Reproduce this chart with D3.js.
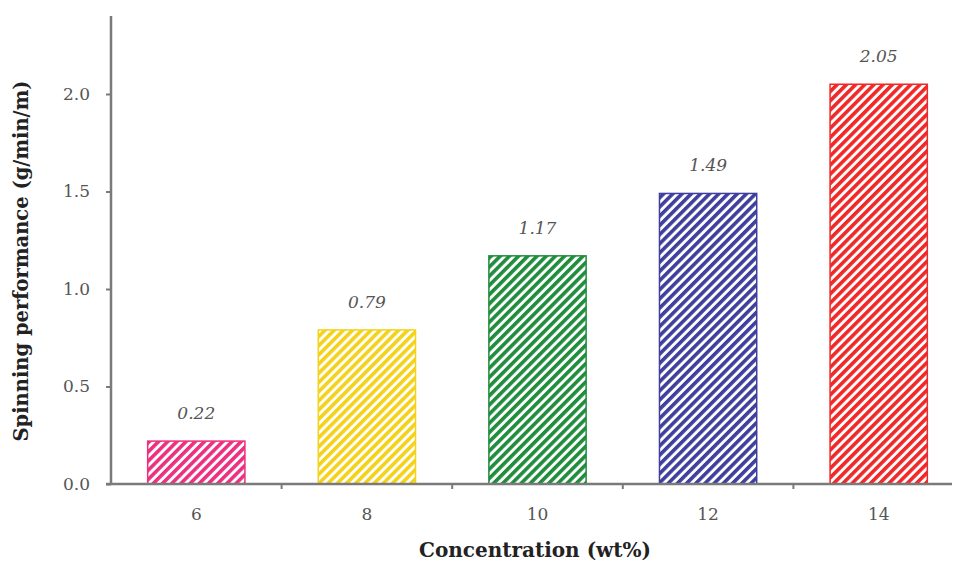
<!DOCTYPE html>
<html><head><meta charset="utf-8">
<script src="https://cdn.jsdelivr.net/npm/d3@7"></script>
<style>body{margin:0;background:#fff;} svg{display:block;}</style>
</head><body>
<svg id="c" width="954" height="563"></svg>
<script>
const categories = ["6", "8", "10", "12", "14"];
const values = [0.22, 0.79, 1.17, 1.49, 2.05];
const valueLabels = ["0.22", "0.79", "1.17", "1.49", "2.05"];
const colors = ["#ec2f7e", "#f4d21a", "#1f8d3c", "#3f3f9e", "#f02828"];
const yTicks = [0.0, 0.5, 1.0, 1.5, 2.0];

const svg = d3.select("#c");
const font = "'DejaVu Serif', 'Liberation Serif', serif";
const axisColor = "#7a7a7a";
const x0 = 111, y0 = 484;
const y = d3.scaleLinear().domain([0, 2.4]).range([y0, 16]);
const x = d3.scaleBand().domain(categories).range([x0, 964]).paddingInner(0.43).paddingOuter(0.215);

const defs = svg.append("defs");
colors.forEach((c, i) => {
  const p = defs.append("pattern").attr("id", "h" + i).attr("patternUnits", "userSpaceOnUse")
    .attr("width", 6.5).attr("height", 6.5).attr("patternTransform", "rotate(45)");
  p.append("rect").attr("width", 6.5).attr("height", 6.5).attr("fill", "#fff");
  p.append("rect").attr("width", 3.6).attr("height", 6.5).attr("fill", c);
});

// bars
svg.selectAll("rect.bar").data(values).join("rect").attr("class", "bar")
  .attr("x", (d, i) => x(categories[i]))
  .attr("y", d => y(d))
  .attr("width", x.bandwidth())
  .attr("height", d => y0 - y(d))
  .attr("fill", (d, i) => `url(#h${i})`)
  .attr("stroke", (d, i) => colors[i]).attr("stroke-width", 1.5);

// value labels
svg.selectAll("text.val").data(values).join("text").attr("class", "val")
  .attr("x", (d, i) => x(categories[i]) + x.bandwidth() / 2)
  .attr("y", d => y(d) - 22)
  .attr("text-anchor", "middle").attr("font-family", font).attr("font-style", "italic")
  .attr("font-size", 17).attr("fill", "#555")
  .text((d, i) => valueLabels[i]);

// y axis
const yAxis = d3.axisLeft(y).tickValues(yTicks).tickFormat(d3.format(".1f")).tickSize(5).tickPadding(16);
const gy = svg.append("g").attr("transform", `translate(${x0},0)`).call(yAxis);
gy.select(".domain").remove();
gy.selectAll(".tick line").attr("stroke", axisColor).attr("stroke-width", 2);
gy.selectAll(".tick text").attr("font-family", font).attr("font-size", 17).attr("fill", "#555");
svg.append("line").attr("x1", x0).attr("x2", x0).attr("y1", 16).attr("y2", y0 + 1)
  .attr("stroke", axisColor).attr("stroke-width", 2.5);

// x axis
const gx = svg.append("g").attr("transform", `translate(0,${y0})`)
  .call(d3.axisBottom(x).tickSize(0).tickPadding(24));
gx.select(".domain").remove();
gx.selectAll(".tick text").attr("font-family", font).attr("font-size", 17).attr("fill", "#555");
svg.append("line").attr("x1", x0 - 5).attr("x2", 952).attr("y1", y0).attr("y2", y0)
  .attr("stroke", axisColor).attr("stroke-width", 2.5);
// minor ticks between categories
const bounds = categories.slice(1).map(c => x(c) - x.step() * x.paddingInner() / 2);
svg.selectAll("line.xt").data(bounds).join("line").attr("class", "xt")
  .attr("x1", d => d).attr("x2", d => d).attr("y1", y0).attr("y2", y0 + 5)
  .attr("stroke", axisColor).attr("stroke-width", 2);

// titles
svg.append("text").attr("x", 535).attr("y", 557).attr("text-anchor", "middle")
  .attr("font-family", font).attr("font-weight", "bold").attr("font-size", 20).attr("fill", "#222")
  .text("Concentration (wt%)");
svg.append("text").attr("transform", "translate(28,261) rotate(-90)").attr("text-anchor", "middle")
  .attr("font-family", font).attr("font-weight", "bold").attr("font-size", 19.5).attr("fill", "#222")
  .text("Spinning performance (g/min/m)");
</script>
</body></html>
